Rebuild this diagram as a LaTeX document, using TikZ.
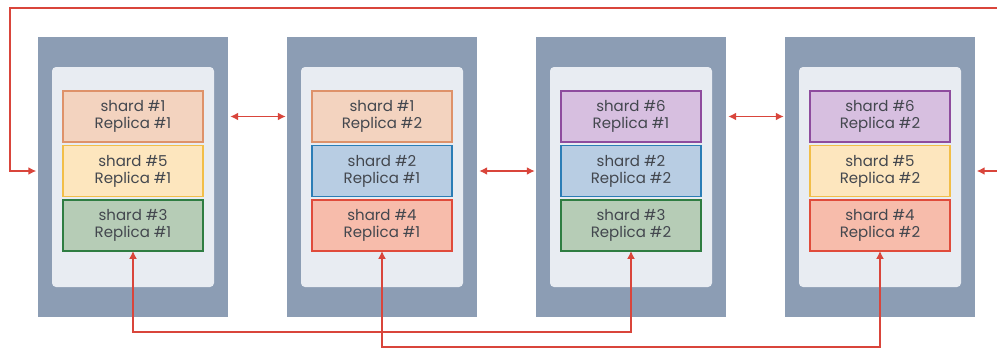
\documentclass[tikz,border=0pt]{standalone}
\usepackage{fontspec}
\setmainfont{Poppins}
\usetikzlibrary{arrows.meta}
\definecolor{outergray}{HTML}{8C9DB4}
\definecolor{innerpanel}{HTML}{E8ECF2}
\definecolor{txt}{HTML}{43474E}
\definecolor{conn}{HTML}{D9453B}
\definecolor{peachF}{HTML}{F3D3BF}\definecolor{peachD}{HTML}{DE926A}
\definecolor{yelF}{HTML}{FDE6BE}\definecolor{yelD}{HTML}{F2BE48}
\definecolor{grnF}{HTML}{B6CCB6}\definecolor{grnD}{HTML}{2F7D42}
\definecolor{bluF}{HTML}{B8CDE3}\definecolor{bluD}{HTML}{2B7DB6}
\definecolor{redF}{HTML}{F7BCAB}\definecolor{redD}{HTML}{E04B3B}
\definecolor{purF}{HTML}{D7BFE0}\definecolor{purD}{HTML}{8E4C9E}
\tikzset{
  server/.style={fill=outergray, draw=none, minimum width=190pt, minimum height=280pt, inner sep=0pt},
  panel/.style={fill=innerpanel, draw=none, rounded corners=4pt, minimum width=162pt, minimum height=220pt, inner sep=0pt},
  shardbox/.style={draw=#1D, fill=#1F, line width=1.8pt, minimum width=140.5pt, minimum height=51pt, inner sep=0pt,
     align=center, font=\fontsize{15}{17}\selectfont, text=txt},
  link/.style={draw=conn, line width=1.9pt},
  tip/.style={-{Latex[length=8pt,width=8pt]}},
  both/.style={{Latex[length=8pt,width=8pt]}-{Latex[length=8pt,width=8pt]}},
}
\begin{document}
\begin{tikzpicture}[x=1pt,y=-1pt]
\useasboundingbox[fill=white] (0,0) rectangle (997,349);
% servers
\foreach \i/\x in {1/133,2/382,3/631,4/880}{
  \node[server] (s\i) at (\x,177) {};
  \node[panel] (p\i) at (\x,177) {};
}
% shards
\node[shardbox=peach] (s1a) at (133,116.5) {shard \#1\\Replica \#1};
\node[shardbox=yel]   (s1b) at (133,171)   {shard \#5\\Replica \#1};
\node[shardbox=grn]   (s1c) at (133,225.5) {shard \#3\\Replica \#1};
\node[shardbox=peach] (s2a) at (382,116.5) {shard \#1\\Replica \#2};
\node[shardbox=blu]   (s2b) at (382,171)   {shard \#2\\Replica \#1};
\node[shardbox=red]   (s2c) at (382,225.5) {shard \#4\\Replica \#1};
\node[shardbox=pur]   (s3a) at (631,116.5) {shard \#6\\Replica \#1};
\node[shardbox=blu]   (s3b) at (631,171)   {shard \#2\\Replica \#2};
\node[shardbox=grn]   (s3c) at (631,225.5) {shard \#3\\Replica \#2};
\node[shardbox=pur]   (s4a) at (880,116.5) {shard \#6\\Replica \#2};
\node[shardbox=yel]   (s4b) at (880,171)   {shard \#5\\Replica \#2};
\node[shardbox=red]   (s4c) at (880,225.5) {shard \#4\\Replica \#2};
% neighbour links
\draw[link,both,shorten <=2pt,shorten >=1pt] (s1a -| s1.east) -- (s1a -| s2.west);
\draw[link,both,shorten <=2pt,shorten >=1pt] (s2b -| s2.east) -- (s2b -| s3.west);
\draw[link,both,shorten <=2pt,shorten >=1pt] (s3a -| s3.east) -- (s3a -| s4.west);
% top loop
\coordinate (tr) at (1003,8);
\coordinate (tl) at (10,8);
\coordinate (rr) at (1003,171);
\draw[link] (rr) -- (tr);
\draw[link,tip,shorten >=1.5pt] (tr) -- (tl) |- (s1b -| s1.west);
\draw[link,tip,shorten >=1.5pt] (rr) -- (s4b -| s4.east);
% bottom links
\coordinate (b1) at (0,332);
\coordinate (b2) at (0,347);
\draw[link,both,shorten <=-1pt,shorten >=-1pt] (s1c.south) -- (s1c.south |- b1) -| (s3c.south);
\draw[link,both,shorten <=-1pt,shorten >=-1pt] (s2c.south) -- (s2c.south |- b2) -| (s4c.south);
\end{tikzpicture}
\end{document}
